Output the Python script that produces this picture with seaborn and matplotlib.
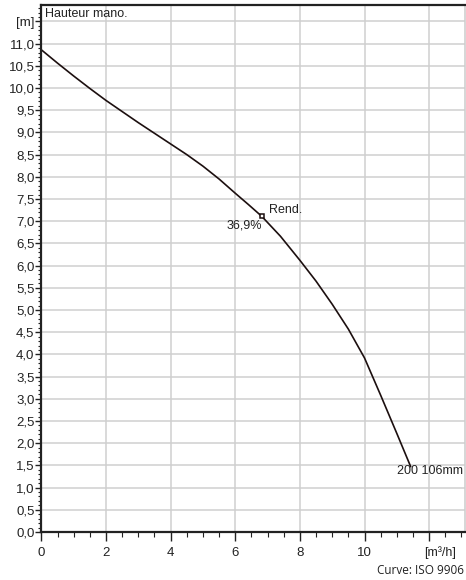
import matplotlib
matplotlib.use("Agg")
import matplotlib.pyplot as plt
import seaborn as sns
from matplotlib.ticker import MultipleLocator, FuncFormatter

# Pump curve
flow = [0, 0.5, 1, 1.5, 2, 2.5, 3, 3.5, 4, 4.5, 5, 5.5, 6, 6.4, 6.82,
        7.4, 8, 8.5, 9, 9.5, 10, 10.5, 11, 11.43]
head = [10.86, 10.56, 10.27, 9.99, 9.72, 9.47, 9.22, 8.98, 8.74, 8.50, 8.24, 7.95, 7.63, 7.38, 7.11,
        6.66, 6.12, 5.65, 5.13, 4.57, 3.92, 3.08, 2.22, 1.47]

eff_flow = 6.82
eff_head = 7.11
eff_label = "36,9%"
curve_label = "200 106mm"

sns.set_theme(style="white")
plt.rcParams["font.family"] = ["Liberation Sans", "DejaVu Sans"]

fig = plt.figure(figsize=(4.66, 5.8), dpi=100)
ax = fig.add_axes([41.4 / 466, 1 - 532 / 580, (465 - 41.4) / 466, (532 - 5) / 580])

sns.lineplot(x=flow, y=head, sort=False, color="#1c0f0f", linewidth=1.2, ax=ax)
ax.plot([eff_flow], [eff_head], marker="s", markersize=3.5, markerfacecolor="white",
        markeredgecolor="#1c0f0f", markeredgewidth=1.1, zorder=5)

ax.set_xlim(0, 13.11)
ax.set_ylim(0, 11.87)

ax.xaxis.set_major_locator(MultipleLocator(2))
ax.xaxis.set_minor_locator(MultipleLocator(0.5))
ax.yaxis.set_major_locator(MultipleLocator(0.5))
ax.yaxis.set_minor_locator(MultipleLocator(0.1))


def yfmt(v, pos):
    if abs(v - 11.5) < 1e-6:
        return "[m]"
    return f"{v:.1f}".replace(".", ",")


def xfmt(v, pos):
    if v > 11:
        return ""
    return f"{v:.0f}"


ax.yaxis.set_major_formatter(FuncFormatter(yfmt))
ax.xaxis.set_major_formatter(FuncFormatter(xfmt))

ax.grid(True, which="major", color="#cfcfcf", linewidth=1.1)
ax.set_axisbelow(True)

ax.tick_params(axis="y", which="major", direction="out", length=4.5, width=1,
               color="#222222", labelsize=9.5, pad=0.5, left=True, labelcolor="#222222")
ax.tick_params(axis="y", which="minor", direction="out", length=2.5, width=0.8,
               color="#222222", left=True)
ax.tick_params(axis="x", which="major", direction="out", length=6.5, width=1,
               color="#222222", labelsize=9.5, pad=4.5, bottom=True, labelcolor="#222222")
ax.tick_params(axis="x", which="minor", direction="out", length=3.5, width=0.8,
               color="#222222", bottom=True)

for side in ["left", "bottom", "top"]:
    ax.spines[side].set_color("#222222")
    ax.spines[side].set_linewidth(1.6)
ax.spines["right"].set_color("#cccccc")
ax.spines["right"].set_linewidth(1.1)

ax.text(0.12, 11.66, "Hauteur mano.", fontsize=9, color="#222222", va="center", ha="left")
ax.text(7.05, 7.25, "Rend.", fontsize=9, color="#222222", va="center", ha="left")
ax.text(6.83, 6.90, eff_label, fontsize=9, color="#222222", va="center", ha="right")
ax.text(11.0, 1.38, curve_label, fontsize=9, color="#222222", va="center", ha="left")
ax.text(12.35, -0.47, "[m³/h]", fontsize=9, color="#222222", va="center", ha="center",
        clip_on=False)

fig.text(464 / 466, 1 - 571 / 580, "Curve: ISO 9906", fontsize=8.5, color="#222222",
         ha="right", va="center", family=["Open Sans", "DejaVu Sans"])

fig.savefig("out.png", dpi=100)
